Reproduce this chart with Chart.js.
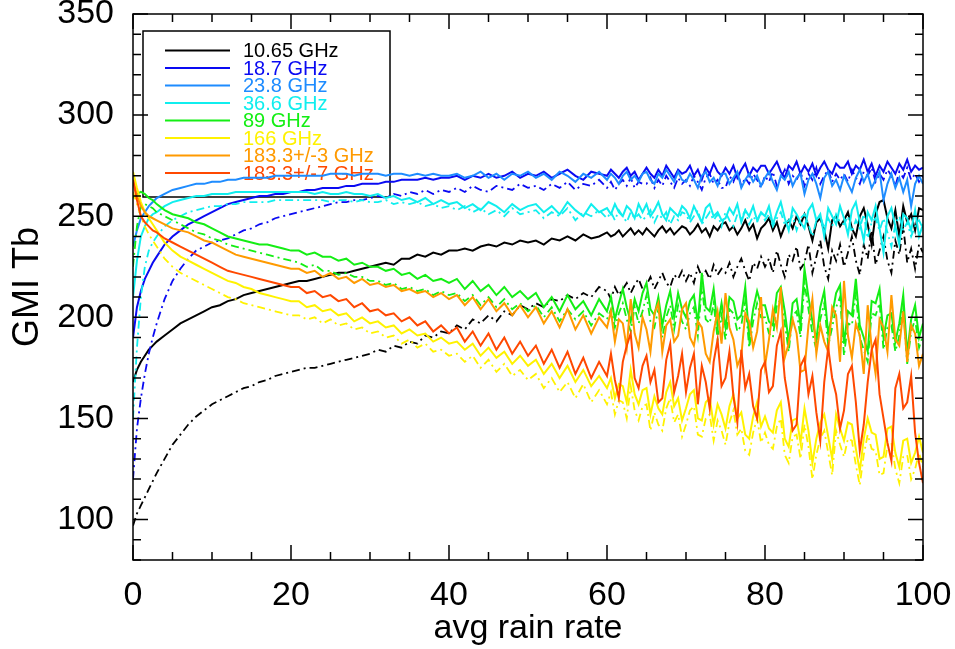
<!DOCTYPE html>
<html>
<head>
<meta charset="utf-8">
<title>GMI Tb vs avg rain rate</title>
<script src="https://cdn.jsdelivr.net/npm/chart.js@4.4.1/dist/chart.umd.min.js"></script>
<style>
  html, body { margin: 0; padding: 0; background: #fff; }
  #wrap { width: 955px; height: 649px; }
</style>
</head>
<body>
<div id="wrap"><canvas id="tbChart" width="955" height="649"></canvas></div>
<script>
// rain rate bins (x) shared by every curve, finer where the curves get noisy
const rainRate = [0,0.5,1,1.5,2,2.5,3,4,5,6,7,8,9,10,
  11,12,13,14,15,16,17,18,19,20,21,22,23,24,25,26,27,28,29,30,
  31,32,33,34,35,36,37,38,39,40,41,42,43,44,45,46,47,48,49,50,
  51,52,53,54,55,56,57,58,59,
  60,60.5,61,61.5,62,62.5,63,63.5,64,64.5,65,65.5,66,66.5,67,67.5,68,68.5,69,69.5,
  70,70.5,71,71.5,72,72.5,73,73.5,74,74.5,75,75.5,76,76.5,77,77.5,78,78.5,79,79.5,
  80,80.5,81,81.5,82,82.5,83,83.5,84,84.5,85,85.5,86,86.5,87,87.5,88,88.5,89,89.5,
  90,90.5,91,91.5,92,92.5,93,93.5,94,94.5,95,95.5,96,96.5,97,97.5,98,98.5,99,99.5,
  100];

// brightness temps (solid = first pol, dd = dash-dot)
const tb1065 = [168,174,178,181,184,186,188,191,194,197,199,201,203,205,
  206,208,209,211,212,213,214,215,216,217, 218,218,219,220,221,222,222,223,224,225,
  226,227,226,229,229,231,230,232,231,233, 233,234,233,235,236,235,237,236,238,237,
  238,236,239,238,240,238,241,239,240,
  242,240,241,243,240,242,244,241,243,241, 244,242,240,243,245,242,244,241,243,245,
  244,241,243,246,242,244,240,245,243,246, 247,243,245,241,244,248,243,246,239,244,
  246,249,243,247,240,245,248,244,250,246, 251,245,238,247,249,243,234,248,250,245,
  248,252,244,240,250,254,246,236,251,257, 258,249,244,253,240,255,247,251,243,254,
  253];
const tb1065dd = [97,103,107,111,115,119,123,130,137,142,147,151,154,157,
  159,161,163,165,166,168,169,171,172,173, 174,175,175,176,177,178,179,180,181,182,
  184,183,186,185,188,187,191,190,193,192, 196,194,199,197,201,198,203,201,206,204,
  207,205,209,208,211,209,212,210,215,
  213,209,215,211,214,217,212,216,219,214, 216,220,214,218,222,217,215,221,219,223,
  218,222,217,225,220,223,219,226,221,224, 222,227,220,225,229,223,218,227,224,230,
  225,229,222,233,226,220,231,228,235,224, 227,236,222,230,238,225,219,233,228,236,
  225,232,240,228,221,236,229,243,226,233, 240,228,222,238,231,245,227,234,224,236,
  232];
const tb187 = [190,205,213,219,223,227,230,236,240,243,246,248,250,252,
  254,256,257,258,259,260,260,261,261,262, 262,263,263,264,264,264,265,265,266,266,
  266,267,267,268,268,268,269,268,269,269, 270,268,270,269,271,269,270,272,269,271,
  270,272,269,271,273,270,268,272,271,
  270,273,271,269,272,274,270,272,268,271, 274,271,269,273,270,275,272,269,273,271,
  272,275,270,273,268,274,271,276,272,270, 274,271,275,269,273,276,270,274,272,275,
  275,271,274,277,272,269,275,273,277,271, 275,272,276,270,274,277,273,271,276,274,
  274,277,271,275,273,278,272,276,270,275, 272,277,274,271,276,273,278,272,275,273,
  274];
const tb187dd = [120,145,160,172,182,190,197,209,218,224,229,233,235,237,
  238,239,241,243,244,246,247,249,250,251, 252,253,254,255,256,257,257,258,258,259,
  260,259,261,260,262,261,263,261,263,262, 264,262,265,263,262,265,264,263,266,264,
  265,263,266,264,267,263,266,265,268,
  264,267,263,266,268,265,269,264,267,266, 266,269,264,268,265,270,267,264,269,266,
  268,265,270,267,263,269,271,266,268,264, 264,270,267,272,265,269,266,271,268,264,
  270,267,272,265,269,273,266,270,268,272, 265,271,268,274,266,270,273,267,271,268,
  271,267,273,269,266,272,270,274,267,271, 268,273,270,265,272,269,274,268,271,267,
  270];
const tb238 = [235,243,249,252,255,257,259,261,263,264,265,266,266,267,
  267,268,268,269,269,269,269,270,270,270, 270,270,270,270,271,271,271,270,271,271,
  271,270,271,271,270,271,270,271,270,270, 271,269,270,272,269,271,268,271,270,272,
  269,271,268,272,270,267,271,269,272,
  268,271,269,266,270,272,268,270,267,271, 272,268,266,271,269,273,270,267,272,268,
  267,271,268,264,270,272,267,269,265,271, 271,266,269,272,264,268,271,267,270,265,
  269,272,267,263,270,268,272,265,269,271, 261,268,271,266,259,269,272,265,268,263,
  270,266,262,269,273,267,271,264,268,272, 258,266,271,264,269,262,268,255,266,270,
  266];
const tb366 = [210,228,240,245,249,251,252,255,257,258,259,260,260,261,
  261,261,262,262,262,262,262,262,262,262, 262,262,261,262,261,261,262,261,261,260,
  261,259,260,258,259,257,259,256,258,256, 257,254,256,253,257,255,252,256,253,255,
  256,252,255,251,257,253,250,256,252,
  254,251,256,252,250,255,253,249,256,252, 256,250,253,257,251,248,254,252,250,255,
  253,249,255,251,247,254,256,250,252,248, 249,254,251,256,247,253,250,255,248,252,
  250,255,246,252,257,249,243,254,251,247, 244,253,256,248,251,240,254,250,246,255,
  249,241,253,257,247,238,252,248,255,244, 232,250,254,245,236,251,249,243,253,240,
  246];
const tb366dd = [150,185,210,225,233,237,240,245,248,250,252,253,254,255,
  255,256,256,257,257,257,257,258,258,258, 258,258,258,258,257,258,258,257,258,257,
  257,258,256,257,256,257,255,256,254,255, 253,255,252,254,251,253,250,254,251,252,
  253,249,252,250,254,248,252,250,253,
  249,252,248,253,250,247,252,249,251,248, 250,253,247,251,249,252,246,250,248,252,
  251,247,250,253,246,249,252,248,251,245, 252,248,245,251,249,253,246,250,247,252,
  248,251,245,249,252,246,248,250,243,249, 251,246,240,248,250,244,249,245,251,247,
  246,250,242,248,244,251,239,247,249,243, 249,242,235,246,250,243,247,240,245,248,
  244];
const tb89 = [259,261,262,261,259,258,256,253,251,250,249,247,246,244,
  242,240,239,238,237,236,236,235,234,233, 233,231,232,230,230,228,229,226,227,225,
  225,223,224,221,222,219,221,218,219,217, 219,214,218,213,216,211,215,210,213,209,
  212,205,210,203,211,204,208,201,209,
  203,210,199,207,214,205,198,209,203,212, 217,204,201,210,196,206,213,200,212,204,
  200,208,211,197,222,205,203,214,195,207, 195,210,208,199,201,215,190,204,213,206,
  206,198,196,212,215,203,188,207,209,196, 224,210,198,189,205,213,192,201,212,216,
  187,203,201,219,196,190,183,208,207,214, 190,201,202,188,197,211,182,199,206,190,
  197];
const tb89dd = [225,245,255,256,255,254,252,250,248,246,244,242,241,239,
  238,236,235,234,233,232,231,230,229,228, 227,225,226,223,223,221,222,220,220,218,
  218,216,217,214,215,213,214,211,213,211, 212,208,211,206,210,205,209,204,207,203,
  206,200,205,198,204,199,203,196,202,
  199,204,195,202,207,199,193,205,197,203, 211,198,195,204,190,200,206,194,206,198,
  194,202,205,191,215,199,197,207,189,201, 189,204,202,193,196,208,185,198,207,200,
  200,192,190,206,209,197,183,201,203,190, 217,204,192,184,199,207,186,195,205,210,
  181,197,196,212,190,184,178,202,201,207, 184,195,196,183,191,205,177,193,199,185,
  191];
const tb166 = [272,264,257,252,249,246,243,237,233,230,228,226,224,222,
  220,218,217,215,214,212,211,210,209,208, 208,205,206,203,204,201,202,198,200,197,
  198,195,196,192,194,191,192,188,190,187, 188,184,187,181,185,180,183,177,181,176,
  179,172,177,170,176,168,174,166,171,
  165,170,160,167,166,158,174,162,157,164, 165,152,161,155,152,163,168,156,160,149,
  155,162,164,150,149,158,160,147,157,152, 145,156,162,150,153,142,140,151,158,146,
  151,145,143,154,158,140,136,149,150,138, 155,144,128,140,148,152,141,130,152,145,
  139,148,147,135,124,140,150,143,142,130, 131,145,146,133,126,139,140,128,133,141,
  133];
const tb166dd = [262,256,250,245,241,238,235,229,225,222,220,218,216,214,
  212,210,209,207,206,205,204,203,202,201, 201,199,200,197,199,196,197,194,195,192,
  193,190,191,187,189,185,187,183,184,181, 182,178,181,175,179,173,177,171,174,169,
  172,165,170,163,168,160,167,158,164,
  157,163,152,159,158,150,166,154,149,156, 157,144,153,147,144,155,160,148,152,141,
  147,154,156,142,141,150,152,139,149,144, 137,148,154,142,145,134,132,143,150,138,
  143,137,135,146,150,132,128,141,142,130, 147,136,120,132,140,144,133,122,144,137,
  131,140,139,127,117,132,142,135,134,122, 123,137,138,125,118,131,132,120,125,133,
  126];
const tb183p3 = [268,260,255,252,250,249,248,246,244,243,242,240,238,237,
  235,233,231,230,229,228,227,226,225,224, 224,222,223,220,222,219,220,217,219,216,
  217,215,216,213,214,212,213,210,212,209, 211,206,210,204,209,203,207,201,206,200,
  205,197,203,195,204,194,201,192,200,
  195,203,188,199,197,185,209,192,185,200, 194,183,202,207,183,196,199,188,191,204,
  207,190,186,198,195,182,178,193,203,187, 212,195,189,176,181,202,198,185,193,210,
  176,189,204,195,215,180,187,199,192,173, 174,196,209,182,196,188,183,205,201,178,
  218,191,180,197,191,172,206,185,172,199, 195,183,211,189,186,203,178,196,192,176,
  182];
const tb183p7 = [268,258,250,247,245,243,242,239,237,235,233,231,229,227,
  225,223,222,221,220,219,218,217,216,215, 215,212,213,210,211,208,209,205,207,203,
  204,201,202,198,200,196,198,193,196,192, 195,188,193,186,192,184,190,182,188,181,
  186,177,184,175,183,172,180,170,178,
  171,182,169,160,178,186,192,170,165,176, 181,168,174,158,160,179,187,163,171,182,
  163,175,182,157,176,168,155,178,189,166, 170,183,161,148,184,165,172,156,150,174,
  178,163,166,186,193,170,158,144,147,176, 180,162,171,153,139,168,185,170,162,145,
  154,172,176,158,134,147,168,184,189,162, 150,138,129,165,172,155,158,171,143,128,
  118];

const channelNames = ["10.65 GHz", "18.7 GHz", "23.8 GHz", "36.6 GHz", "89 GHz",
  "166 GHz", "183.3+/-3 GHz", "183.3+/-7 GHz"];
const channelColors = ["#000000", "#0a0af2", "#1e8cff", "#10eeee", "#14ee14",
  "#fff200", "#ff9a00", "#ff4800"];
const xTicks = [0, 20, 40, 60, 80, 100];
const yTicks = [100, 150, 200, 250, 300, 350];

const FONT = "'Liberation Sans', Arial, sans-serif";

// order the curves were plotted in (last one ends up on top)
const curves = [
  { vals: tb1065, ch: 0, dd: false }, { vals: tb1065dd, ch: 0, dd: true },
  { vals: tb187, ch: 1, dd: false }, { vals: tb187dd, ch: 1, dd: true },
  { vals: tb238, ch: 2, dd: false },
  { vals: tb366, ch: 3, dd: false }, { vals: tb366dd, ch: 3, dd: true },
  { vals: tb89, ch: 4, dd: false }, { vals: tb89dd, ch: 4, dd: true },
  { vals: tb166, ch: 5, dd: false }, { vals: tb166dd, ch: 5, dd: true },
  { vals: tb183p3, ch: 6, dd: false },
  { vals: tb183p7, ch: 7, dd: false }
];

function toPoints(vals) {
  return vals.map((v, i) => ({ x: rainRate[i], y: v }));
}

// chart.js paints dataset 0 last, so flip the list
const datasets = curves.map(c => ({
  label: channelNames[c.ch] + (c.dd ? " (dd)" : ""),
  data: toPoints(c.vals),
  borderColor: channelColors[c.ch],
  borderWidth: c.dd ? 1.8 : 2,
  borderDash: c.dd ? [8, 4, 2, 4] : [],
  pointRadius: 0,
  tension: 0,
  fill: false
})).reverse();

// boxed legend in the upper left, drawn under the curves
const boxLegend = {
  id: "boxLegend",
  beforeDatasetsDraw(chart) {
    const ctx = chart.ctx;
    ctx.save();
    ctx.strokeStyle = "#000";
    ctx.lineWidth = 1.5;
    ctx.strokeRect(143, 31, 247, 166);
    ctx.font = "20px " + FONT;
    ctx.textBaseline = "middle";
    channelNames.forEach((name, i) => {
      const yy = 50.5 + i * 17.5;
      ctx.strokeStyle = channelColors[i];
      ctx.lineWidth = 2;
      ctx.beginPath();
      ctx.moveTo(165, yy);
      ctx.lineTo(230, yy);
      ctx.stroke();
      ctx.fillStyle = channelColors[i];
      ctx.fillText(name, 243, yy + 1);
    });
    ctx.restore();
  }
};

// idl style frame with inward ticks on all four sides
const frameTicks = {
  id: "frameTicks",
  afterDatasetsDraw(chart) {
    const { ctx, chartArea: a, scales: { x, y } } = chart;
    ctx.save();
    ctx.strokeStyle = "#000";
    ctx.lineWidth = 1.5;
    ctx.strokeRect(a.left, a.top, a.right - a.left, a.bottom - a.top);
    ctx.beginPath();
    for (let v = 0; v <= 100; v += 5) {
      const len = v % 20 === 0 ? 15 : 8;
      const px = x.getPixelForValue(v);
      ctx.moveTo(px, a.bottom); ctx.lineTo(px, a.bottom - len);
      ctx.moveTo(px, a.top); ctx.lineTo(px, a.top + len);
    }
    for (let v = 80; v <= 350; v += 10) {
      const len = v % 50 === 0 ? 15 : 8;
      const py = y.getPixelForValue(v);
      ctx.moveTo(a.left, py); ctx.lineTo(a.left + len, py);
      ctx.moveTo(a.right, py); ctx.lineTo(a.right - len, py);
    }
    ctx.stroke();
    ctx.restore();
  }
};

new Chart(document.getElementById("tbChart"), {
  type: "line",
  data: { datasets: datasets },
  options: {
    responsive: false,
    animation: false,
    layout: { padding: { top: 14, right: 32, left: 0, bottom: 0 } },
    plugins: { legend: { display: false }, tooltip: { enabled: false } },
    scales: {
      x: {
        type: "linear",
        min: 0,
        max: 100,
        afterBuildTicks: s => { s.ticks = xTicks.map(v => ({ value: v })); },
        afterFit: s => { s.height = 89; s.paddingLeft = 0; s.paddingRight = 0; },
        grid: { display: false },
        border: { display: false },
        ticks: { color: "#000", font: { family: FONT, size: 34 }, padding: 7, maxRotation: 0, autoSkip: false },
        title: { display: true, text: "avg rain rate", color: "#000", font: { family: FONT, size: 34 }, padding: { top: 0, bottom: 0 } }
      },
      y: {
        min: 80,
        max: 350,
        afterBuildTicks: s => { s.ticks = yTicks.map(v => ({ value: v })); },
        afterFit: s => { s.width = 133; s.paddingTop = 0; s.paddingBottom = 0; },
        grid: { display: false },
        border: { display: false },
        ticks: { color: "#000", font: { family: FONT, size: 34 }, padding: 11 },
        title: { display: true, text: "GMI Tb", color: "#000", font: { family: FONT, size: 36 }, padding: { top: 6, bottom: 0 } }
      }
    }
  },
  plugins: [boxLegend, frameTicks]
});
</script>
</body>
</html>
